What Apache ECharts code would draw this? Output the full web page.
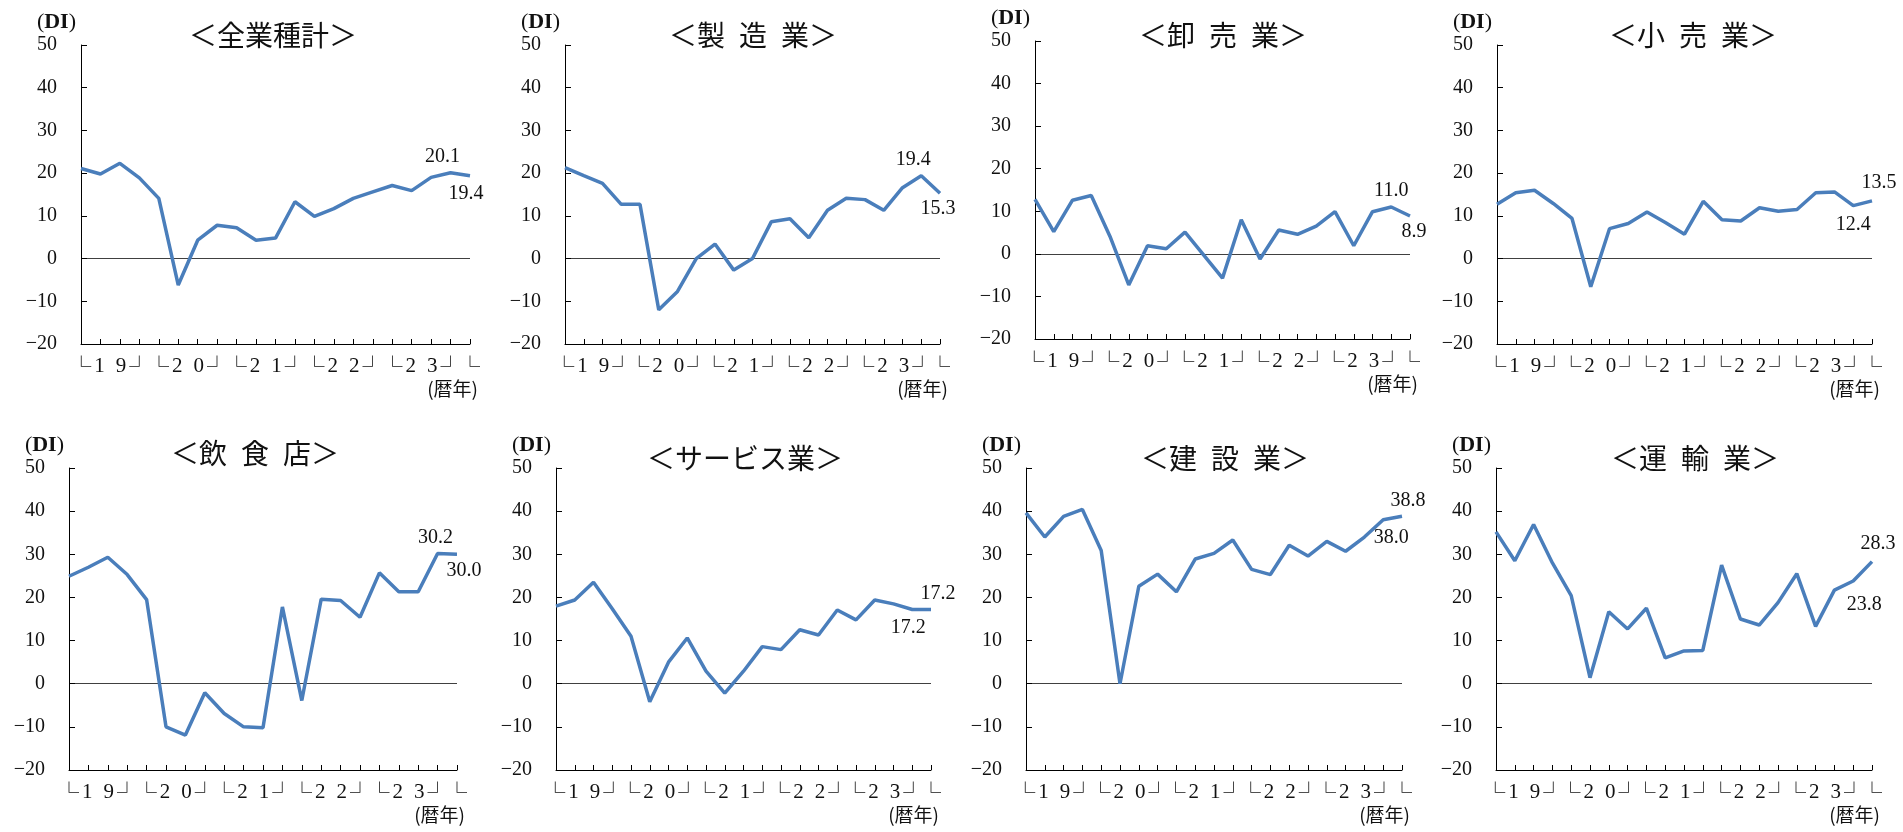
<!DOCTYPE html>
<html>
<head>
<meta charset="utf-8">
<script src="https://cdn.jsdelivr.net/npm/echarts@6/dist/echarts.min.js"></script>
<style>
html, body { margin: 0; padding: 0; background: #fff; }
#main { width: 1903px; height: 832px; }
</style>
</head>
<body>
<div id="main"></div>
<script>
// 四半期（2019年1-3月期 〜 2024年1-3月期）
var quarters = ['19-1','19-2','19-3','19-4','20-1','20-2','20-3','20-4','21-1','21-2','21-3','21-4',
                '22-1','22-2','22-3','22-4','23-1','23-2','23-3','23-4','24-1'];
var years = ['19', '20', '21', '22', '23'];

var dataAll       = [21.1,19.8,22.3,18.9,14.1,-6.2,4.3,7.8,7.2,4.3,4.8,13.3,9.9,11.7,14.1,15.6,17.1,15.9,19.0,20.1,19.4];
var dataMfg       = [21.3,19.4,17.6,12.7,12.7,-12.0,-7.7,0.0,3.4,-2.7,0.0,8.6,9.3,4.9,11.3,14.1,13.8,11.3,16.6,19.4,15.3];
var dataWholesale = [12.8,5.2,12.6,13.7,4.1,-7.3,1.9,1.2,5.1,-0.3,-5.7,8.0,-1.2,5.6,4.6,6.5,9.9,1.9,9.9,11.0,8.9];
var dataRetail    = [12.7,15.4,16.0,12.9,9.4,-6.6,7.0,8.2,10.9,8.4,5.7,13.4,9.1,8.8,11.9,11.1,11.5,15.4,15.6,12.4,13.5];
var dataFood      = [24.9,27.0,29.3,25.3,19.5,-10.0,-11.9,-2.1,-6.9,-10.0,-10.2,17.8,-3.9,19.6,19.3,15.4,25.7,21.3,21.3,30.2,30.0];
var dataService   = [18.0,19.4,23.5,17.4,11.0,-4.2,5.0,10.6,2.9,-2.2,2.9,8.6,7.9,12.5,11.3,17.1,14.8,19.4,18.5,17.2,17.2];
var dataConstr    = [39.6,34.0,38.8,40.4,30.9,0.0,22.6,25.4,21.3,28.9,30.2,33.3,26.5,25.3,32.1,29.6,33.0,30.7,34.0,38.0,38.8];
var dataTransport = [35.2,28.5,36.9,28.0,20.4,1.4,16.7,12.7,17.5,6.0,7.6,7.7,27.5,15.0,13.6,18.8,25.5,13.3,21.7,23.8,28.3];

var titles = ['＜全業種計＞', '＜製\u2002造\u2002業＞', '＜卸\u2002売\u2002業＞', '＜小\u2002売\u2002業＞',
              '＜飲\u2002食\u2002店＞', '＜サービス業＞', '＜建\u2002設\u2002業＞', '＜運\u2002輸\u2002業＞'];
var seriesData = [dataAll, dataMfg, dataWholesale, dataRetail, dataFood, dataService, dataConstr, dataTransport];

// 配置（グリッド位置とタイトル中心）
var layout = [
  {left: 81,   top: 45,  width: 389, height: 299, tx: 273,  ty: 21},
  {left: 565,  top: 45,  width: 375, height: 299, tx: 753,  ty: 21},
  {left: 1035, top: 41,  width: 375, height: 298, tx: 1223, ty: 21},
  {left: 1497, top: 45,  width: 375, height: 299, tx: 1693, ty: 21},
  {left: 69,   top: 468, width: 388, height: 302, tx: 255,  ty: 439},
  {left: 556,  top: 468, width: 375, height: 302, tx: 745,  ty: 444},
  {left: 1026, top: 468, width: 376, height: 302, tx: 1225, ty: 444},
  {left: 1496, top: 468, width: 376, height: 302, tx: 1695, ty: 444}
];

// 数値ラベル（index, 位置, オフセット）
var labelCfg = [
  [[19, 'top', [-8, 0]], [20, 'bottom', [-4, 2]]],
  [[19, 'top', [-8, 0]], [20, 'bottom', [-2, 0]]],
  [[19, 'top', [0, 0]],  [20, 'bottom', [4, 0]]],
  [[20, 'top', [7, -2]], [19, 'bottom', [0, 3]]],
  [[19, 'top', [-2, 0]], [20, 'bottom', [7, 0]]],
  [[20, 'top', [7, 0]],  [19, 'bottom', [-4, 2]]],
  [[20, 'top', [6, 0]],  [19, 'bottom', [8, 2]]],
  [[20, 'top', [6, -2]], [19, 'bottom', [11, 8]]]
];

var serif = "'Liberation Serif', 'Times New Roman', serif";
var cjk = "'Noto Sans CJK JP', sans-serif";
var lineColor = '#4A7EBB';
var clear = 'rgba(0,0,0,0)';
// 目盛り -20,-10,0,...,50 のうち 0 の線だけ描く
var zeroLineColors = [clear, clear, '#404040', clear, clear, clear, clear, clear];

var option = {
  animation: false,
  backgroundColor: '#fff',
  title: [], grid: [], xAxis: [], yAxis: [], series: []
};

for (var i = 0; i < 8; i++) {
  var L = layout[i];
  option.title.push({
    text: titles[i], left: L.tx, top: L.ty, textAlign: 'center', padding: 0,
    textStyle: {fontFamily: cjk, fontSize: 28, fontWeight: 'normal', color: '#111'}
  });
  option.grid.push({left: L.left, top: L.top, width: L.width, height: L.height, containLabel: false});

  // 四半期の軸（目盛りのみ）
  option.xAxis.push({
    type: 'category', gridIndex: i, data: quarters, boundaryGap: false,
    axisLine: {onZero: false, lineStyle: {color: '#000', width: 1}},
    axisTick: {inside: true, length: 5, interval: 0, lineStyle: {color: '#000'}},
    axisLabel: {show: false}, splitLine: {show: false}
  });
  // 暦年ラベル用の軸
  option.xAxis.push({
    type: 'value', gridIndex: i, min: 0, max: 20, interval: 0.5, position: 'bottom',
    axisLine: {show: false, onZero: false}, axisTick: {show: false}, splitLine: {show: false},
    name: '(暦年)', nameLocation: 'end', nameGap: 8,
    nameTextStyle: {fontFamily: cjk, fontSize: 19, color: '#111', align: 'right', verticalAlign: 'top', padding: [35, 0, 0, 0]},
    axisLabel: {
      show: true, margin: 12, showMinLabel: true, showMaxLabel: true,
      formatter: function (v) {
        var k = (v - 1.5) / 4;
        if (Math.abs(k - Math.round(k)) < 1e-6 && k >= 0 && k < years.length) {
          var y = years[Math.round(k)];
          return '{b|└}{d|' + y[0] + '}{d|' + y[1] + '}{b|┘}';
        }
        if (Math.abs(v - 20) < 1e-6) return '{b|└}';
        return '';
      },
      rich: {
        b: {fontFamily: cjk, fontSize: 20, width: 15, align: 'center', color: '#111'},
        d: {fontFamily: serif, fontSize: 21, width: 21.5, align: 'center', color: '#111'}
      }
    }
  });

  option.yAxis.push({
    type: 'value', gridIndex: i, min: -20, max: 50, interval: 10,
    name: '{p|(}{b|DI}{p|)}', nameLocation: 'end', nameGap: 12,
    nameTextStyle: {align: 'right', padding: [0, 5, 0, 0],
      rich: {p: {fontFamily: serif, fontSize: 22, color: '#111'},
             b: {fontFamily: serif, fontSize: 22, fontWeight: 'bold', color: '#111'}}},
    axisLine: {show: true, lineStyle: {color: '#000', width: 1}},
    axisTick: {show: true, inside: true, length: 6, lineStyle: {color: '#000'}},
    splitLine: {show: true, lineStyle: {color: zeroLineColors, width: 1}},
    axisLabel: {
      margin: 24, fontFamily: serif, fontSize: 20, color: '#111',
      formatter: function (v) { return String(v).replace('-', '−'); }
    }
  });

  var d = seriesData[i];
  var items = d.map(function (v) { return {value: v}; });
  labelCfg[i].forEach(function (c) {
    items[c[0]] = {
      value: d[c[0]],
      label: {show: true, position: c[1], offset: c[2], distance: 6,
              fontFamily: serif, fontSize: 20, color: '#111',
              formatter: function (p) { return p.value.toFixed(1); }}
    };
  });

  option.series.push({
    type: 'line', xAxisIndex: 2 * i, yAxisIndex: i, data: items,
    symbol: 'circle', symbolSize: 0, showSymbol: true,
    lineStyle: {color: lineColor, width: 3.5},
    itemStyle: {color: lineColor}
  });
}

var chart = echarts.init(document.getElementById('main'));
chart.setOption(option);
</script>
</body>
</html>
